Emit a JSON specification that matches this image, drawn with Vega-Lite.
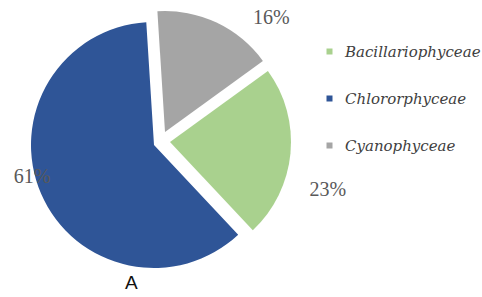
{
  "$schema": "https://vega.github.io/schema/vega-lite/v6.json",
  "width": 482,
  "height": 297,
  "autosize": "none",
  "padding": 0,
  "background": "white",
  "title": {"text": "A", "orient": "bottom", "anchor": "start", "dx": 125, "offset": -23, "font": "Liberation Sans", "fontSize": 19, "fontWeight": "normal", "color": "#111111"},
  "data": {"values": [
    {"class": "Bacillariophyceae", "pct": 23},
    {"class": "Chlororphyceae", "pct": 61},
    {"class": "Cyanophyceae", "pct": 16}
  ]},
  "transform": [
    {"stack": "pct", "groupby": [], "sort": [{"field": "class", "order": "ascending"}], "as": ["t0", "t1"]}
  ],
  "encoding": {
    "theta": {"field": "t0", "type": "quantitative", "scale": {"domain": [0, 100], "range": [0.9425, 7.2257]}},
    "color": {"field": "class", "type": "nominal",
      "scale": {"domain": ["Bacillariophyceae", "Chlororphyceae", "Cyanophyceae"], "range": ["#A9D18E", "#2F5597", "#A5A5A5"]},
      "legend": {"title": null, "orient": "none", "legendX": 322, "legendY": 44, "symbolType": "square", "symbolSize": 36, "symbolStrokeWidth": 0, "labelFont": "DejaVu Serif", "labelFontStyle": "italic", "labelFontSize": 15, "labelLimit": 200, "labelColor": "#404040", "rowPadding": 31, "labelOffset": 8}}
  },
  "layer": [
    {"transform": [{"filter": "datum.class === 'Chlororphyceae'"}], "mark": {"type": "arc", "x": 154, "y": 145, "outerRadius": 123}, "encoding": {"theta2": {"field": "t1"}}},
    {"transform": [{"filter": "datum.class === 'Bacillariophyceae'"}], "mark": {"type": "arc", "x": 170, "y": 142, "outerRadius": 121}, "encoding": {"theta2": {"field": "t1"}}},
    {"transform": [{"filter": "datum.class === 'Cyanophyceae'"}], "mark": {"type": "arc", "x": 165, "y": 132, "outerRadius": 121}, "encoding": {"theta2": {"field": "t1"}}},
    {"transform": [{"filter": "datum.class === 'Chlororphyceae'"}], "mark": {"type": "text", "x": 154, "y": 145, "radius": 126, "thetaOffset": 2.066, "font": "Liberation Serif", "fontSize": 20, "align": "center", "baseline": "middle"}, "encoding": {"text": {"value": "61%"}, "color": {"value": "#595959"}}},
    {"transform": [{"filter": "datum.class === 'Bacillariophyceae'"}], "mark": {"type": "text", "x": 170, "y": 142, "radius": 165, "thetaOffset": 0.923, "font": "Liberation Serif", "fontSize": 20, "align": "center", "baseline": "middle"}, "encoding": {"text": {"value": "23%"}, "color": {"value": "#595959"}}},
    {"transform": [{"filter": "datum.class === 'Cyanophyceae'"}], "mark": {"type": "text", "x": 165, "y": 132, "radius": 156, "thetaOffset": 0.813, "font": "Liberation Serif", "fontSize": 20, "align": "center", "baseline": "middle"}, "encoding": {"text": {"value": "16%"}, "color": {"value": "#595959"}}}
  ],
  "config": {"view": {"stroke": null}}
}
